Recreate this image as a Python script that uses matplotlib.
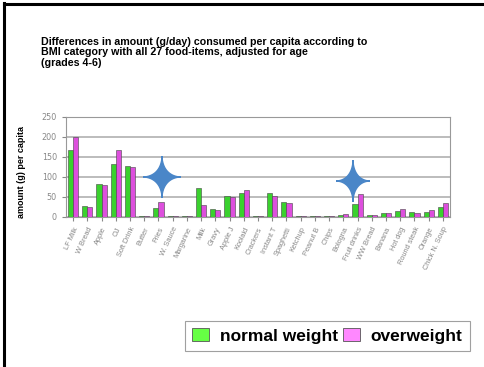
import numpy as np
import matplotlib
matplotlib.use('Agg')
from matplotlib import pyplot as plt
from matplotlib.patches import Polygon, Patch
from matplotlib.lines import Line2D

# Dữ liệu
foods = ['LF Milk', 'W Bread', 'Apple', 'OJ', 'Soft Drink', 'Butter', 'Fries',
         'W. Sauce', 'Margarine', 'Milk', 'Gravy', 'Apple J', 'Koolaid',
         'Crackers', 'Instant T', 'Spaghetti', 'Ketchup', 'Peanut B', 'Chips',
         'Bologna', 'Fruit drinks', 'WW Bread', 'Banana', 'Hot dog',
         'Round steak', 'Orange', 'Chick N. Soup']
normal = [168, 28, 82, 133, 128, 3, 22, 2, 2, 72, 19, 52, 60, 3, 60, 38,
          2, 2, 2, 4, 33, 6, 11, 15, 12, 12, 25]
over = [200, 26, 81, 168, 125, 3, 38, 2, 2, 30, 17, 50, 67, 2, 52, 36,
        2, 2, 2, 8, 58, 6, 11, 21, 11, 17, 36]
yticks = [0, 50, 100, 150, 200, 250]

W, H = 484, 367
fig = plt.figure(figsize=(W / 100, H / 100), dpi=100)

# Khung viền
fig.add_artist(Line2D([4 / W, 4 / W], [0, 1 - 3 / H], color='black', lw=2.2))
fig.add_artist(Line2D([4 / W, 1], [1 - 4 / H, 1 - 4 / H], color='black', lw=2.2))

fig.text(41 / W, 1 - 37 / H,
         'Differences in amount (g/day) consumed per capita according to\n'
         'BMI category with all 27 food-items, adjusted for age\n(grades 4-6)',
         family='Liberation Sans', weight='bold', fontsize=7.7, va='top',
         linespacing=1.05)

ax = fig.add_axes([66 / W, 1 - 217 / H, 384 / W, 100 / H])
x = np.arange(len(foods))
w = 0.36
ax.bar(x - w / 2, normal, w, color='#3ad12e', edgecolor='#444444', lw=0.4, zorder=3)
ax.bar(x + w / 2, over, w, color='#dd4fdd', edgecolor='#444444', lw=0.4, zorder=3)
ax.set_xlim(-0.5, len(foods) - 0.5)
ax.set_ylim(0, 250)
ax.set_yticks(yticks)
ax.yaxis.grid(True, color='#b0b0b0', lw=1.2, zorder=0)
ax.set_xticks(x)
ax.set_xticklabels(foods, rotation=65, ha='right', rotation_mode='anchor',
                   fontsize=5.3, color='#888888', family='Liberation Sans')
ax.tick_params(axis='y', labelsize=5.8, colors='#888888', length=3)
ax.tick_params(axis='x', length=3, colors='#888888')
for s in ax.spines.values():
    s.set_color('#999999')
ax.set_ylabel('amount (g) per capita', fontsize=6.5, weight='bold',
              family='Liberation Sans')
ax.yaxis.set_label_coords(-0.105, 0.45)

# Ngôi sao trang trí (4 cánh, cạnh lõm)
def star(cx, cy, rx, ry, p=3.7):
    t = np.linspace(0, 2 * np.pi, 160, endpoint=False)
    c, s = np.cos(t), np.sin(t)
    px = cx + rx * np.sign(c) * np.abs(c) ** p
    py = cy + ry * np.sign(s) * np.abs(s) ** p
    pts = [(a / W, 1 - b / H) for a, b in zip(px, py)]
    fig.add_artist(Polygon(pts, closed=True, color='#4a86c8', zorder=5))

star(162, 177, 19, 21)
star(353, 181, 17, 21)

handles = [Patch(facecolor='#66ff44', edgecolor='#555555', lw=0.6),
           Patch(facecolor='#ff88ff', edgecolor='#555555', lw=0.6)]
leg = fig.legend(handles, ['normal weight', 'overweight'], ncol=2,
                 loc='upper left', bbox_to_anchor=(185 / W, 1 - 321 / H),
                 prop={'family': 'Liberation Sans', 'weight': 'bold', 'size': 12.5},
                 frameon=True, fancybox=False, edgecolor='#888888',
                 handlelength=1.0, handleheight=0.8, handletextpad=0.6,
                 columnspacing=0.3, borderpad=0.4, borderaxespad=0)
leg.get_frame().set_linewidth(0.8)

fig.savefig('out.png', dpi=100)
